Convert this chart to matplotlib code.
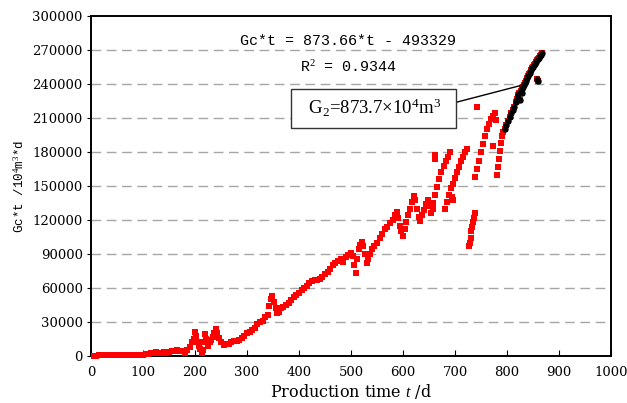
import numpy as np
import matplotlib.pyplot as plt

# production time (d) and Gc*t (10^4 m^3*d)
t_days = [5, 10, 15, 20, 25, 30, 35, 40, 45, 50, 55, 60, 65, 70, 75, 80, 85, 90, 95, 100,
          105, 110, 115, 120, 125, 130, 135, 140, 145, 150, 155, 160, 165, 170, 175, 180,
          185, 190, 195, 198, 200, 202, 205, 208, 210, 213, 216, 218, 220, 222, 225, 228,
          231, 234, 237, 240, 243, 246, 250, 255, 260, 265, 270, 275, 280, 285, 290, 295,
          300, 305, 310, 315, 320, 325, 330, 335, 340, 343, 346, 349, 352, 355, 358, 362,
          366, 370, 375, 380, 385, 390, 395, 400, 405, 410, 415, 420, 425, 430, 435, 440,
          445, 450, 455, 460, 465, 470, 475, 480, 485, 490, 495, 500, 503, 506, 509, 512,
          515, 518, 521, 524, 527, 530, 533, 536, 540, 545, 550, 555, 560, 565, 570, 575,
          580, 585, 588, 591, 594, 597, 600, 603, 606, 610, 614, 618, 621, 624, 627, 630,
          633, 636, 640, 644, 648, 651, 654, 657, 658, 662, 666, 670, 674, 678, 682, 686,
          690, 661, 661, 680, 684, 688, 692, 696, 700, 704, 708, 712, 716, 720, 724, 694,
          696, 727, 728, 730, 731, 733, 735, 737, 739, 742, 738, 742, 746, 750, 754, 758,
          762, 766, 770, 774, 777, 779, 773, 781, 783, 785, 787, 789, 791, 793,
          796, 799, 802, 805, 808, 811, 814, 817, 820, 822, 824, 826, 828, 830, 832, 834,
          836, 838, 840, 842, 844, 846, 848, 850, 852, 854, 856, 858, 860, 862, 864, 866,
          868, 858, 860, 825, 829]
gct = [0.3, 0.4, 0.5, 0.6, 0.7, 0.8, 0.6, 0.7, 0.8, 0.9, 0.8, 1.0, 1.1, 0.9, 1.3, 1.2, 1.0, 1.1, 0.8, 1.0,
       1.5, 2.0, 2.5, 3.0, 3.5, 3.0, 2.5, 3.5, 3.0, 3.5, 4.0, 4.5, 5.0, 4.0, 4.5, 3.0,
       5.0, 8.0, 12.0, 15.0, 21.0, 18.0, 12.0, 9.0, 6.0, 3.0, 5.0, 12.0, 19.0, 15.0, 9.0, 12.0,
       14.0, 17.0, 20.0, 24.0, 20.0, 16.0, 12.0, 10.0, 10.5, 11.0, 12.0, 13.0, 13.5, 14.5, 16.0, 18.0,
       20.0, 21.0, 23.0, 25.0, 28.0, 30.0, 31.0, 34.0, 36.0, 44.0, 50.0, 53.0, 48.0, 42.0, 38.0, 39.0,
       42.0, 43.0, 45.0, 47.0, 49.0, 52.0, 54.0, 56.0, 58.0, 60.0, 62.0, 64.0, 66.0, 67.0, 67.5, 68.0,
       70.0, 72.0, 74.0, 77.0, 80.0, 82.0, 84.0, 86.0, 83.0, 87.0, 89.0, 91.0, 88.0, 80.0, 73.0, 86.0,
       94.0, 98.0, 101.0, 97.0, 90.0, 82.0, 86.0, 90.0, 94.0, 97.0, 100.0, 104.0, 108.0, 112.0, 114.0, 117.0,
       120.0, 124.0, 127.0, 122.0, 115.0, 110.0, 106.0, 112.0, 118.0, 124.0, 130.0, 136.0, 141.0, 138.0, 130.0, 123.0,
       119.0, 124.0, 129.0, 134.0, 138.0, 132.0, 126.0, 130.0, 135.0, 142.0, 149.0, 156.0, 162.0, 168.0, 172.0, 176.0,
       180.0, 174.0, 177.0, 130.0, 136.0, 142.0, 148.0, 152.0, 157.0, 162.0, 167.0, 172.0, 176.0, 180.0, 183.0, 140.0,
       138.0, 97.0, 100.0, 104.0, 110.0, 114.0, 118.0, 122.0, 126.0, 220.0, 158.0, 165.0, 172.0, 180.0, 187.0, 194.0,
       200.0, 205.0, 209.0, 212.0, 214.0, 208.0, 185.0, 160.0, 167.0, 174.0, 181.0, 188.0, 194.0, 198.0,
       200.0, 204.0, 207.0, 211.0, 214.0, 217.0, 220.0, 224.0, 227.0, 230.0, 232.0, 234.0, 236.0, 237.0, 239.0, 241.0,
       243.0, 245.0, 247.0, 249.0, 250.0, 252.0, 254.0, 255.0, 257.0, 258.0, 259.0, 261.0, 262.0, 263.0, 265.0, 266.0,
       267.0, 244.0, 243.0, 226.0, 232.0]

fit_start = 796   # points used for the straight-line fit (drawn black)
fit_eq = 'Gc*t = 873.66*t - 493329'
fit_r2 = 'R$^2$ = 0.9344'
g2_text = '  G$_2$=873.7×10$^4$m$^3$  '

plt.rcParams['mathtext.fontset'] = 'custom'
plt.rcParams['mathtext.rm'] = 'Liberation Serif'
plt.rcParams['mathtext.it'] = 'Liberation Serif:italic'

t = np.array(t_days, dtype=float)
y = np.array(gct) * 1000.0

fig = plt.figure(figsize=(6.27, 4.03), dpi=100)
ax = fig.add_axes([0.1451, 0.1166, 0.8294, 0.8437])

ax.plot(t, y, 's', color='#ff0000', ms=4.3, mew=0, clip_on=False, zorder=3)
sel = t >= fit_start
ax.plot(t[sel], y[sel], 'o', color='black', ms=4.6, mew=0, zorder=4)

ax.set_xlim(0, 1000)
ax.set_ylim(0, 300000)
ax.set_xticks(np.arange(0, 1001, 100))
ax.set_yticks(np.arange(0, 300001, 30000))
ax.tick_params(axis='x', direction='in', length=4, pad=7, labelsize=9.5)
ax.tick_params(axis='y', direction='out', length=3, pad=3, labelsize=9.5)
for lab in ax.get_xticklabels() + ax.get_yticklabels():
    lab.set_family('DejaVu Serif')

for v in np.arange(30000, 300000, 30000):
    ax.axhline(v, color='#a6a6a6', lw=1.0, ls=(0, (7, 4)), zorder=1)

for s in ax.spines.values():
    s.set_linewidth(1.4)

ax.set_xlabel('Production time $t$ /d', family='DejaVu Serif', fontsize=11.5, labelpad=2)
ax.set_ylabel('Gc*t /10$^4$m$^3$*d', family='Liberation Mono', fontsize=9, labelpad=4)

ax.text(495, 277500, fit_eq, family='Liberation Mono', fontsize=10.8,
        ha='center', va='center')
ax.text(495, 255000, fit_r2, family='Liberation Mono', fontsize=10.8,
        ha='center', va='center')
ax.annotate(g2_text, xy=(829, 239000), xytext=(543, 218500),
            family='Liberation Serif', fontsize=13.5, ha='center', va='center',
            bbox=dict(boxstyle='square,pad=0.45', fc='white', ec='#333333', lw=1),
            arrowprops=dict(arrowstyle='-', color='black', lw=1, relpos=(1, 0.67),
                            shrinkA=0, shrinkB=0),
            zorder=5)

plt.savefig('out.png', dpi=100)
